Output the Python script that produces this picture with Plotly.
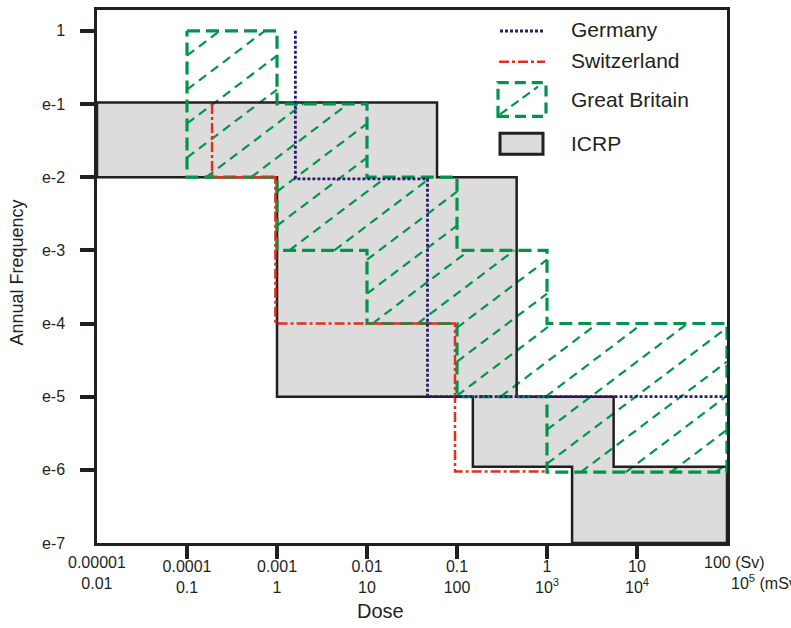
import math
import plotly.graph_objects as go

# ---------------- data ----------------
x_tick_vals = [1e-5, 1e-4, 1e-3, 1e-2, 1e-1, 1, 10, 100]
x_tick_sv = ["0.00001", "0.0001", "0.001", "0.01", "0.1", "1", "10", "100 (Sv)"]
x_tick_msv = ["0.01", "0.1", "1", "10", "100", "10<sup>3</sup>", "10<sup>4</sup>", "10<sup>5</sup> (mSv)"]
y_tick_vals = [1, 1e-1, 1e-2, 1e-3, 1e-4, 1e-5, 1e-6, 1e-7]
y_tick_text = ["1", "e-1", "e-2", "e-3", "e-4", "e-5", "e-6", "e-7"]

series_names = ["Germany", "Switzerland", "Great Britain", "ICRP"]

germany_x = [0.0016, 0.0016, 0.047, 0.047, 100]
germany_y = [1, 0.0095, 0.0095, 1e-5, 1e-5]

switzerland_x = [0.00019, 0.00019, 0.00096, 0.00096, 0.095, 0.095, 1.0]
switzerland_y = [0.1, 0.01, 0.01, 1e-4, 1e-4, 0.95e-6, 0.95e-6]

gb_edges = [1e-4, 1e-3, 1e-2, 1e-1, 1, 100]
gb_upper = [1, 1e-1, 1e-2, 1e-3, 1e-4]
gb_lower = [1e-2, 1e-3, 1e-4, 1e-5, 0.93e-6]

icrp_upper_edges = [1e-5, 0.06, 0.46, 5.5, 100]
icrp_upper = [0.105, 1e-2, 1e-5, 1.1e-6]
icrp_lower_edges = [1e-5, 1e-3, 0.15, 1.9, 100]
icrp_lower = [1e-2, 1e-5, 1.1e-6, 1e-7]

# ---------------- style ----------------
C_GER = "#2b1a70"
C_SUI = "#e0301e"
C_GB = "#00954a"
C_ICRP_FILL = "#dcdcdc"
C_DARK = "#231f20"
FONT = "Liberation Sans, Arial, sans-serif"

W, H = 791, 628
ML, MR, MT, MB = 97, 64, 7, 85
X_RANGE = [-5, 2]
Y_RANGE = [-7, 0.285]


def step_band(up_edges, up_vals, lo_edges, lo_vals):
    xs, ys = [], []
    for i, v in enumerate(up_vals):
        xs += [up_edges[i], up_edges[i + 1]]
        ys += [v, v]
    for i in reversed(range(len(lo_vals))):
        xs += [lo_edges[i + 1], lo_edges[i]]
        ys += [lo_vals[i], lo_vals[i]]
    xs.append(xs[0])
    ys.append(ys[0])
    return xs, ys


def hatch_lines(edges, upper, lower, slope_px, spacing_px, phase_pt):
    pw = W - ML - MR
    ph = H - MT - MB
    px_per_u = pw / (X_RANGE[1] - X_RANGE[0])
    px_per_v = ph / (Y_RANGE[1] - Y_RANGE[0])
    m = slope_px * px_per_u / px_per_v
    dc = m * spacing_px / px_per_u
    c0 = phase_pt[1] - m * phase_pt[0]
    strips = [(math.log10(edges[i]), math.log10(edges[i + 1]),
               math.log10(lower[i]), math.log10(upper[i])) for i in range(len(upper))]
    cmin = min(s[2] - m * s[1] for s in strips)
    cmax = max(s[3] - m * s[0] for s in strips)
    k0 = math.floor((cmin - c0) / dc) - 1
    k1 = math.ceil((cmax - c0) / dc) + 1
    xs, ys = [], []
    for k in range(k0, k1 + 1):
        c = c0 + k * dc
        segs = []
        for (u0, u1, vlo, vhi) in strips:
            ua = max(u0, (vlo - c) / m)
            ub = min(u1, (vhi - c) / m)
            if ub > ua + 1e-9:
                if segs and abs(segs[-1][1] - ua) < 1e-9:
                    segs[-1][1] = ub
                else:
                    segs.append([ua, ub])
        for ua, ub in segs:
            xs += [10 ** ua, 10 ** ub, None]
            ys += [10 ** (m * ua + c), 10 ** (m * ub + c), None]
    return xs, ys


fig = go.Figure()

icrp_x, icrp_y = step_band(icrp_upper_edges, icrp_upper, icrp_lower_edges, icrp_lower)
gb_x, gb_y = step_band(gb_edges, gb_upper, gb_edges, gb_lower)
hx, hy = hatch_lines(gb_edges, gb_upper, gb_lower, 0.76, 45, (1.486, -5.0))

fig.add_trace(go.Scatter(x=icrp_x, y=icrp_y, mode="lines", fill="toself",
                         fillcolor=C_ICRP_FILL, line=dict(width=0), hoverinfo="skip"))
fig.add_trace(go.Scatter(x=hx, y=hy, mode="lines", connectgaps=False,
                         line=dict(color=C_GB, width=2.2, dash="9px,6px"), hoverinfo="skip"))
fig.add_trace(go.Scatter(x=icrp_x, y=icrp_y, mode="lines", cliponaxis=False,
                         line=dict(color=C_DARK, width=2.5), name="ICRP"))
fig.add_trace(go.Scatter(x=gb_x, y=gb_y, mode="lines", cliponaxis=False,
                         line=dict(color=C_GB, width=3.2, dash="13px,6px"), name="Great Britain"))
fig.add_trace(go.Scatter(x=switzerland_x, y=switzerland_y, mode="lines", cliponaxis=False,
                         line=dict(color=C_SUI, width=2.5, dash="10px,3px,3px,3px"), name="Switzerland"))
fig.add_trace(go.Scatter(x=germany_x, y=germany_y, mode="lines", cliponaxis=False,
                         line=dict(color=C_GER, width=2.8, dash="3px,2px"), name="Germany"))


def pxx(p):
    return (p - ML) / (W - ML - MR)


def pxy(p):
    return (H - MB - p) / (H - MT - MB)


shapes = []
annotations = []

# custom legend
shapes.append(dict(type="line", xref="paper", yref="paper", x0=pxx(500), x1=pxx(543), y0=pxy(28), y1=pxy(28),
                   line=dict(color=C_GER, width=3, dash="3px,2px")))
shapes.append(dict(type="line", xref="paper", yref="paper", x0=pxx(499), x1=pxx(545), y0=pxy(59), y1=pxy(59),
                   line=dict(color=C_SUI, width=2.5, dash="10px,3px,3px,3px")))
shapes.append(dict(type="rect", xref="paper", yref="paper", x0=pxx(498), x1=pxx(546), y0=pxy(114), y1=pxy(80),
                   line=dict(color=C_GB, width=3.2, dash="11px,6px")))
shapes.append(dict(type="line", xref="paper", yref="paper", x0=pxx(500), x1=pxx(538), y0=pxy(112), y1=pxy(84),
                   line=dict(color=C_GB, width=2.2, dash="9px,5px")))
shapes.append(dict(type="rect", xref="paper", yref="paper", x0=pxx(500), x1=pxx(543), y0=pxy(152), y1=pxy(131),
                   fillcolor=C_ICRP_FILL, line=dict(color=C_DARK, width=3)))
legend_y = [27, 58, 97, 141]
for name, ly in zip(series_names, legend_y):
    annotations.append(dict(text=name, xref="paper", yref="paper", x=pxx(569), y=pxy(ly),
                            xanchor="left", yanchor="middle", showarrow=False,
                            font=dict(family=FONT, size=21, color=C_DARK)))

# end tick labels on x axis
annotations.append(dict(text=x_tick_sv[0] + "<br>" + x_tick_msv[0], x=math.log10(x_tick_vals[0]), xref="x",
                        y=0, yref="paper", xanchor="center", yanchor="top", yshift=-9, showarrow=False,
                        font=dict(family=FONT, size=16, color=C_DARK)))
annotations.append(dict(text=x_tick_sv[-1], x=math.log10(x_tick_vals[-1]), xref="x",
                        y=0, yref="paper", xanchor="left", yanchor="top", yshift=-9, xshift=-25, showarrow=False,
                        font=dict(family=FONT, size=16, color=C_DARK)))
annotations.append(dict(text=x_tick_msv[-1], x=math.log10(x_tick_vals[-1]), xref="x",
                        y=0, yref="paper", xanchor="left", yanchor="top", yshift=-27, xshift=2, showarrow=False,
                        font=dict(family=FONT, size=16, color=C_DARK)))
# bottom y label (no tick)
annotations.append(dict(text=y_tick_text[-1], x=0, xref="paper", y=math.log10(y_tick_vals[-1]), yref="y",
                        xanchor="right", yanchor="middle", xshift=-30, showarrow=False,
                        font=dict(family=FONT, size=16, color=C_DARK)))
# axis titles
annotations.append(dict(text="Annual Frequency", textangle=-90, xref="paper", yref="paper",
                        x=pxx(17), y=pxy(271), xanchor="center", yanchor="middle", showarrow=False,
                        font=dict(family=FONT, size=18, color=C_DARK)))
annotations.append(dict(text="Dose", xref="paper", yref="paper", x=pxx(380), y=pxy(611),
                        xanchor="center", yanchor="middle", showarrow=False,
                        font=dict(family=FONT, size=20, color=C_DARK)))

fig.update_layout(
    width=W, height=H,
    margin=dict(l=ML, r=MR, t=MT, b=MB),
    paper_bgcolor="white", plot_bgcolor="white",
    showlegend=False,
    shapes=shapes, annotations=annotations,
    font=dict(family=FONT, size=16, color=C_DARK),
    xaxis=dict(type="log", range=X_RANGE, showgrid=False, zeroline=False,
               showline=True, mirror=True, linecolor=C_DARK, linewidth=2.5,
               ticks="outside", ticklen=13, tickwidth=3.5, tickcolor=C_DARK,
               tickvals=x_tick_vals[1:-1],
               ticktext=[a + "<br>" + b for a, b in zip(x_tick_sv[1:-1], x_tick_msv[1:-1])],
               ticklabelstandoff=-6,
               tickfont=dict(family=FONT, size=16, color=C_DARK)),
    yaxis=dict(type="log", range=Y_RANGE, showgrid=False, zeroline=False,
               showline=True, mirror=True, linecolor=C_DARK, linewidth=2.5,
               ticks="outside", ticklen=14, tickwidth=3.5, tickcolor=C_DARK,
               tickvals=y_tick_vals[:-1], ticktext=y_tick_text[:-1],
               ticklabelstandoff=12,
               tickfont=dict(family=FONT, size=16, color=C_DARK)),
)

fig.write_html("out.html")
